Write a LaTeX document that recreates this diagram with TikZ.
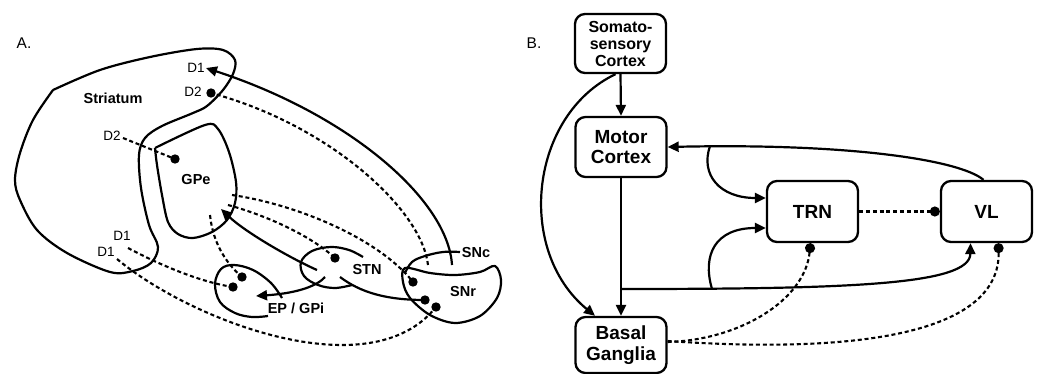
\documentclass[tikz,border=0pt]{standalone}
\usepackage{fontspec}
\setmainfont{Liberation Sans}
\usetikzlibrary{arrows.meta}
\begin{document}
\begin{tikzpicture}[x=1pt,y=-1pt, line width=2.2pt, line join=round, line cap=butt,
  arr/.style={-{Triangle[length=11pt,width=10pt]}},
  dotl/.style={line width=2.1pt, dash pattern=on 4pt off 2.8pt},
  ball/.style={-{Circle[length=10pt,width=10pt]}},
  box/.style={draw, line width=2.3pt, rounded corners=10pt, align=center, inner sep=0pt,
    minimum width=91pt, minimum height=60pt, font=\bfseries\fontsize{19}{20.5}\selectfont},
  lab/.style={font=\bfseries\fontsize{14.5}{16}\selectfont, inner sep=0pt},
  dlab/.style={font=\fontsize{13.5}{15}\selectfont, inner sep=0pt},
  plab/.style={font=\fontsize{15.5}{17}\selectfont, inner sep=0pt}]
\useasboundingbox (0,0) rectangle (1038,374);

% ================= Panel A =================
\node[plab] (labA) at (24,43) {A.};

% Striatum
\draw plot[smooth, tension=0.55] coordinates {(53,90) (100,70) (150,57) (197,49) (223,50) (235,60) (233,74) (223,90) (207,106) (193,113) (162,126) (145,138) (139,155) (141,188) (149,225) (158,247) (151,263) (133,271) (110,272) (67,253) (37,230) (20,200) (15,180) (20,153) (33,120) (53,90)};
% GPe
\draw plot[smooth, tension=0.55] coordinates {(155,148) (205,125) (218,129) (229,152) (236,182) (235,203) (227,220) (212,232) (193,238) (178,234) (168,222) (162,195) (157,165) (155,148)};
% EP / GPi
\draw plot[smooth, tension=0.6] coordinates {(282,298) (271,283) (253,270) (234,265) (221,269) (215,284) (220,302) (235,313) (252,317) (268,316)};
% STN
\draw plot[smooth, tension=0.6] coordinates {(363,257) (349,250) (331,247) (312,251) (301,262) (304,276) (318,285) (335,288) (352,285)};
% SNr
\draw plot[smooth cycle, tension=0.55] coordinates {(405,268) (430,273) (455,275) (480,272) (495,266) (501,280) (497,298) (480,316) (455,323) (430,315) (410,298) (403,282)};
% SNc upper arc
\draw plot[smooth, tension=0.6] coordinates {(405,273) (412,262) (425,256) (443,252) (460,252)};

\node[lab] (striatum) at (113,98) {Striatum};
\node[lab] (gpe) at (196,180) {GPe};
\node[lab] (stn) at (367,270) {STN};
\node[lab] (snc) at (476,253) {SNc};
\node[lab] (snr) at (463,292) {SNr};
\node[lab] (ep) at (296,308) {EP / GPi};
\node[dlab] (d1a) at (196,68) {D1};
\node[dlab] (d2a) at (193,92) {D2};
\node[dlab] (d2b) at (112,136) {D2};
\node[dlab] (d1b) at (122,236) {D1};
\node[dlab] (d1c) at (106,252) {D1};

% named points
\coordinate (d1tip) at (206,68);
\coordinate (dotD2a) at (211,93);
\coordinate (dotGPe) at (175,159);
\coordinate (dotEPa) at (233,287);
\coordinate (dotEPb) at (242,277);
\coordinate (dotSTN) at (335,258);
\coordinate (dotSNa) at (413,282);
\coordinate (dotSNb) at (425,300);
\coordinate (dotSNc) at (436,307);
\coordinate (sncA) at (452,265);
\coordinate (sncB) at (428,265);
\coordinate (d2bs) at (123,138);
\coordinate (d1bs) at (128,248);
\coordinate (d1cs) at (117,259);
\coordinate (gpeA) at (210,215);
\coordinate (gpeB) at (232,195);
\coordinate (gpeC) at (228,205);
\coordinate (gpeTip) at (221,209);
\coordinate (stnA) at (317,270);
\coordinate (stnB) at (325,277);
\coordinate (stnC) at (340,277);
\coordinate (epTip) at (256,296);

% connectors
\draw[arr] (sncA) .. controls (448,200) and (350,115) .. (d1tip);
\draw[dotl] (sncB) .. controls (422,210) and (330,125) .. (dotD2a);
\draw[dotl] (d2bs) -- (dotGPe);
\draw[dotl] (d1bs) .. controls (160,265) and (200,282) .. (dotEPa);
\draw[dotl] (d1cs) .. controls (190,320) and (370,390) .. (dotSNc);
\draw[dotl] (gpeA) .. controls (213,245) and (228,265) .. (dotEPb);
\draw[dotl] (gpeB) .. controls (300,205) and (380,240) .. (dotSNa);
\draw[dotl] (gpeC) .. controls (265,215) and (310,235) .. (dotSTN);
\draw[arr] (stnA) .. controls (290,258) and (245,232) .. (gpeTip);
\draw[arr] (stnB) .. controls (318,285) and (300,293) .. (epTip);
\draw (stnC) .. controls (360,292) and (385,300) .. (dotSNb);

\foreach \p in {dotD2a,dotGPe,dotEPa,dotEPb,dotSTN,dotSNa,dotSNb,dotSNc}
  \fill (\p) circle (4.7pt);

% ================= Panel B =================
\node[plab] (labB) at (534,43) {B.};

\node[box, minimum height=59pt, font=\bfseries\fontsize{16}{17}\selectfont] (soma) at (620.5,43.5) {Somato-\\sensory\\Cortex};
\node[box] (motor) at (621,147) {Motor\\Cortex};
\node[box, minimum height=56pt] (basal) at (621,345) {Basal\\Ganglia};
\node[box, minimum height=61pt] (trn) at (812.5,211.5) {TRN};
\node[box, minimum height=61pt] (vl) at (986.5,211.5) {VL};

\coordinate (j1) at (621,289);
\coordinate (j2) at (712,289);
\coordinate (j3) at (710,146);

\draw[arr] (soma.south) -- (motor.north);
\draw[arr] (motor.south) -- (basal.north);
\draw[arr] ([xshift=-5pt]soma.south) .. controls (530,115) and (515,250) .. ([xshift=-26pt]basal.north);
\draw[arr] (j1) .. controls (850,289) and (970,285) .. ([xshift=-16pt]vl.south);
\draw[arr] (j2) .. controls (702,255) and (715,228) .. (trn.west |- 0,228);
\draw[arr] ([xshift=-3pt]vl.north) .. controls (960,160) and (850,143) .. (motor.east);
\draw[arr] (j3) .. controls (700,175) and (720,198) .. (trn.west |- 0,198);

\draw[dotl, ball] (trn.east) -- (vl.west);
\draw[dotl, ball] ([yshift=3pt]basal.east) .. controls (740,340) and (805,300) .. ([xshift=-2pt]trn.south);
\draw[dotl, ball] ([yshift=4pt]basal.east) .. controls (870,355) and (1000,330) .. ([xshift=12pt]vl.south);

\end{tikzpicture}
\end{document}
